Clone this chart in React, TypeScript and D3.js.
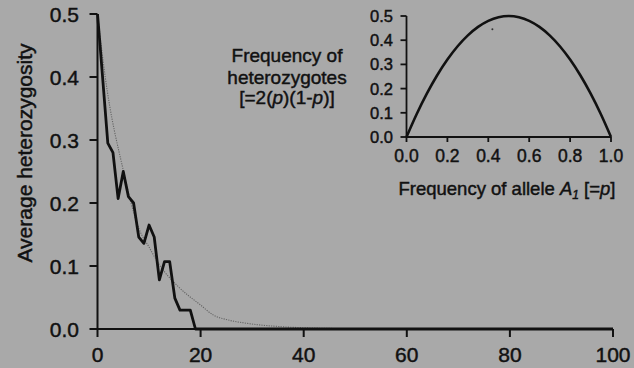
import React from "react";
import * as d3 from "d3";

// Main chart: simulated heterozygosity over generations
const generations = [0, 0.5, 2, 3, 4, 5, 6, 7, 8, 9, 10, 11, 12, 13, 14, 15, 16, 18, 19, 100];
const heterozygosity = [0.5, 0.45, 0.295, 0.28, 0.207, 0.25, 0.21, 0.2, 0.146, 0.136, 0.165, 0.146, 0.078, 0.107, 0.107, 0.049, 0.03, 0.03, 0, 0];

// Expected decline (dotted curve)
const expectedGen = [0, 1.5, 5, 8, 10, 12, 15.7, 20, 22.5, 25, 29, 35, 40, 50, 60, 100];
const expectedHet = [0.5, 0.4, 0.252, 0.16, 0.13, 0.102, 0.067, 0.038, 0.022, 0.015, 0.009, 0.004, 0.002, 0.0005, 0.0001, 0];

const mainXTicks = [0, 20, 40, 60, 80, 100];
const mainYTicks = [0, 0.1, 0.2, 0.3, 0.4, 0.5];

// Inset: frequency of heterozygotes vs allele frequency
const alleleFreq = [0, 0.05, 0.1, 0.15, 0.2, 0.25, 0.3, 0.35, 0.4, 0.45, 0.5, 0.55, 0.6, 0.65, 0.7, 0.75, 0.8, 0.85, 0.9, 0.95, 1];
const hetFreq = [0, 0.095, 0.18, 0.255, 0.32, 0.375, 0.42, 0.455, 0.48, 0.495, 0.5, 0.495, 0.48, 0.455, 0.42, 0.375, 0.32, 0.255, 0.18, 0.095, 0];
const insetXTicks = [0, 0.2, 0.4, 0.6, 0.8, 1.0];
const insetYTicks = [0, 0.1, 0.2, 0.3, 0.4, 0.5];
const speck = [{ p: 0.42, h: 0.445 }];

const W = 634;
const H = 368;
const BG = "#a9a9a9";
const INK = "#111111";
const FONT = "'Liberation Sans', Arial, Helvetica, sans-serif";

export default function App() {
  const x = d3.scaleLinear().domain([0, 100]).range([97.5, 613]);
  const y = d3.scaleLinear().domain([0, 0.5]).range([329, 14]);

  const ix = d3.scaleLinear().domain([0, 1]).range([406.5, 611]);
  const iy = d3.scaleLinear().domain([0, 0.5]).range([137, 16]);

  const mainLine = d3
    .line<number>()
    .x((_, i) => x(generations[i]))
    .y((d) => y(d))
    .curve(d3.curveLinear)(heterozygosity);

  const expLine = d3
    .line<number>()
    .x((_, i) => x(expectedGen[i]))
    .y((d) => y(d))
    .curve(d3.curveMonotoneX)(expectedHet);

  const insetLine = d3
    .line<number>()
    .x((_, i) => ix(alleleFreq[i]))
    .y((d) => iy(d))
    .curve(d3.curveCatmullRom)(hetFreq);

  const textWeight = { stroke: INK, strokeWidth: 0.45 };

  return (
    <svg
      width={W}
      height={H}
      style={{ position: "absolute", left: 0, top: 0, background: BG }}
      fontFamily={FONT}
    >
      <rect x={0} y={0} width={W} height={H} fill={BG} />

      {/* expected dotted curve */}
      <path d={expLine || ""} fill="none" stroke="#666" strokeWidth={1.1} strokeDasharray="1.2,1.2" />

      {/* main axes */}
      <g stroke={INK} strokeWidth={2} fill="none">
        <line x1={x(0)} x2={x(0)} y1={y(0)} y2={y(0.5)} />
        <line x1={x(0)} x2={x(100)} y1={y(0)} y2={y(0)} />
        {mainYTicks.map((t) => (
          <line key={"yt" + t} x1={x(0) - 8} x2={x(0)} y1={y(t)} y2={y(t)} />
        ))}
        {mainXTicks.map((t) => (
          <line key={"xt" + t} x1={x(t)} x2={x(t)} y1={y(0)} y2={y(0) + 8} />
        ))}
      </g>

      {/* simulated line */}
      <path d={mainLine || ""} fill="none" stroke={INK} strokeWidth={2.8} strokeLinejoin="round" />

      <g fill={INK} fontSize={21} {...textWeight}>
        {mainYTicks.map((t) => (
          <text key={"yl" + t} x={79} y={y(t)} dy="0.36em" textAnchor="end">
            {t.toFixed(1)}
          </text>
        ))}
        {mainXTicks.map((t) => (
          <text key={"xl" + t} x={x(t)} y={362} textAnchor="middle">
            {t}
          </text>
        ))}
        <text transform={`translate(32,${(18 + 288) / 2}) rotate(-90)`} textAnchor="middle">
          Average heterozygosity
        </text>
      </g>

      {/* annotation */}
      <g fill={INK} fontSize={19} textAnchor="middle" {...textWeight}>
        <text x={287} y={62}>Frequency of</text>
        <text x={287} y={83.5}>heterozygotes</text>
        <text x={287} y={104}>
          [=2(<tspan fontStyle="italic">p</tspan>)(1-<tspan fontStyle="italic">p</tspan>)]
        </text>
      </g>

      {/* inset axes */}
      <g stroke={INK} strokeWidth={1.8} fill="none">
        <line x1={ix(0)} x2={ix(0)} y1={iy(0)} y2={iy(0.5)} />
        <line x1={ix(0)} x2={ix(1)} y1={iy(0)} y2={iy(0)} />
        {insetYTicks.map((t) => (
          <line key={"iyt" + t} x1={ix(0) - 6} x2={ix(0)} y1={iy(t)} y2={iy(t)} />
        ))}
        {insetXTicks.map((t) => (
          <line key={"ixt" + t} x1={ix(t)} x2={ix(t)} y1={iy(0)} y2={iy(0) + 5} />
        ))}
      </g>
      <path d={insetLine || ""} fill="none" stroke={INK} strokeWidth={2.6} />
      {speck.map((s, i) => (
        <circle key={i} cx={ix(s.p)} cy={iy(s.h)} r={1} fill="#333" />
      ))}

      <g fill={INK} {...textWeight}>
        {insetYTicks.map((t) => (
          <text key={"iyl" + t} x={393} y={iy(t)} dy="0.36em" textAnchor="end" fontSize={16.5}>
            {t.toFixed(1)}
          </text>
        ))}
        {insetXTicks.map((t) => (
          <text key={"ixl" + t} x={ix(t)} y={162} textAnchor="middle" fontSize={17.5}>
            {t.toFixed(1)}
          </text>
        ))}
        <text x={507} y={195} textAnchor="middle" fontSize={18.5}>
          Frequency of allele <tspan fontStyle="italic">A</tspan>
          <tspan fontStyle="italic" fontSize={12} dy={4}>1</tspan>
          <tspan dy={-4}> [=</tspan>
          <tspan fontStyle="italic">p</tspan>]
        </text>
      </g>
    </svg>
  );
}
